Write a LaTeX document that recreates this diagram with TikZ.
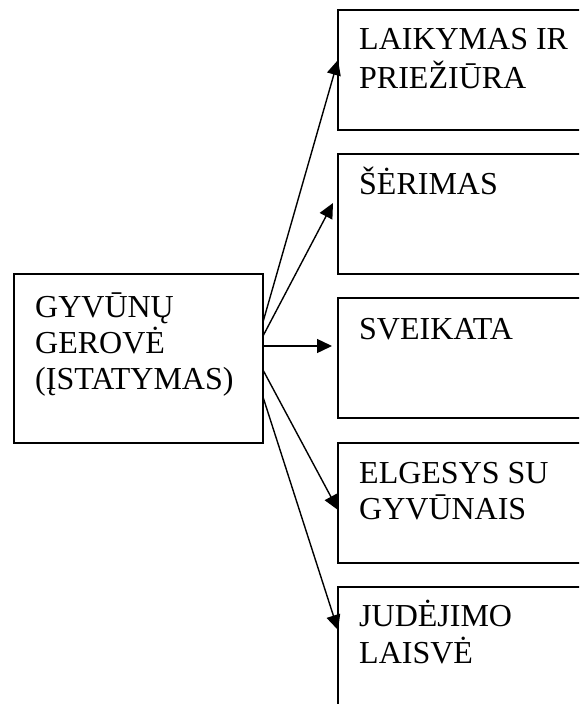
\documentclass[tikz,border=0pt]{standalone}
\usepackage{fontspec}
\setmainfont{Liberation Serif}
\usetikzlibrary{arrows.meta}
\begin{document}
\begin{tikzpicture}[x=1pt,y=-1pt,
  box/.style={draw,line width=1.8pt,inner sep=0pt,outer sep=0pt,rectangle},
  rbox/.style={box,minimum width=290pt,minimum height=120pt,anchor=north west},
  txt/.style={anchor=base west,inner sep=0pt,font=\fontsize{32}{38}\selectfont},
  arr/.style={line width=1.4pt,-{Triangle[length=15pt,width=14pt]}}]
\useasboundingbox (0,0) rectangle (579,704);
\clip (0,0) rectangle (579,704);
\fill[white] (0,0) rectangle (579,704);
% left box
\node[box,minimum width=249pt,minimum height=169pt,anchor=north west] (L) at (14,274) {};
\node[txt] (l1) at (35,317) {GYVŪNŲ};
\node[txt] (l2) at (35,353) {GEROVĖ};
\node[txt] (l3) at (35,389) {(ĮSTATYMAS)};
% right boxes
\node[rbox] (B1) at (338,10) {};
\node[rbox] (B2) at (338,154) {};
\node[rbox] (B3) at (338,298) {};
\node[rbox] (B4) at (338,443) {};
\node[rbox] (B5) at (338,587) {};
\node[txt] (t1a) at (359,49) {LAIKYMAS IR};
\node[txt] (t1b) at (359,88) {PRIEŽIŪRA};
\node[txt] (t2) at (359,194) {ŠĖRIMAS};
\node[txt] (t3) at (359,339) {SVEIKATA};
\node[txt] (t4a) at (359,483) {ELGESYS SU};
\node[txt] (t4b) at (359,519) {GYVŪNAIS};
\node[txt] (t5a) at (359,626) {JUDĖJIMO};
\node[txt] (t5b) at (359,663) {LAISVĖ};
% arrows
\draw[arr] ([yshift=-48pt]L.north east) -- ([yshift=-50pt]B1.north west);
\draw[arr] ([yshift=-62pt]L.north east) -- ([xshift=-5pt,yshift=-49pt]B2.north west);
\draw[arr] ([yshift=-72pt]L.north east) -- ([xshift=-6pt,yshift=-48pt]B3.north west);
\draw[arr] ([yshift=-96pt]L.north east) -- ([yshift=-67pt]B4.north west);
\draw[arr] ([yshift=-123pt]L.north east) -- ([yshift=-43pt]B5.north west);
\end{tikzpicture}
\end{document}
